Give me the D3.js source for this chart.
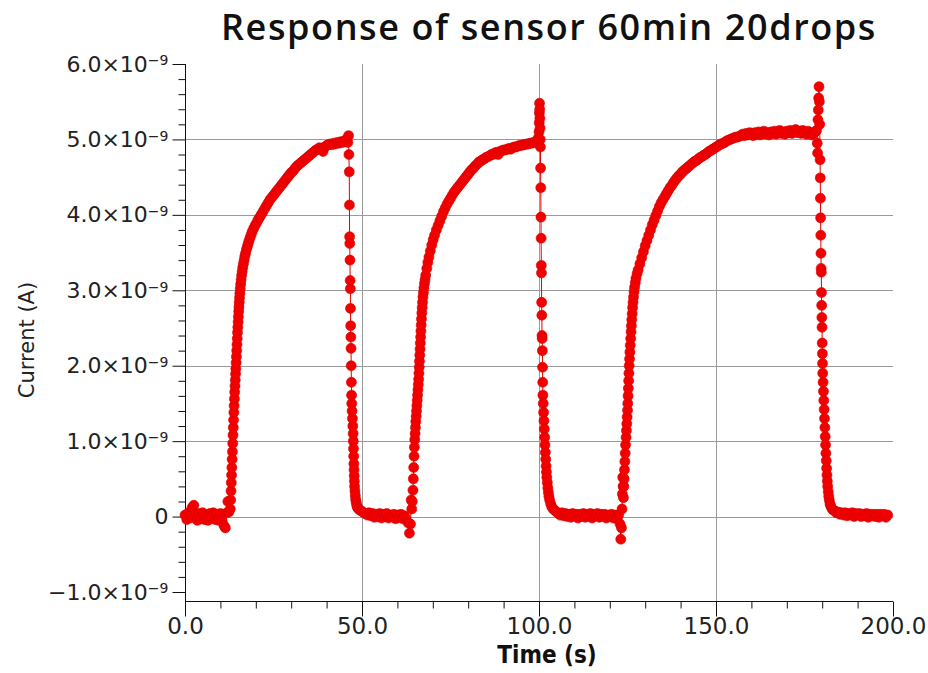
<!DOCTYPE html>
<html>
<head>
<meta charset="utf-8">
<script src="https://cdn.jsdelivr.net/npm/d3@7"></script>
<style>
  body { margin: 0; background: #fff; }
  svg { display: block; }
</style>
</head>
<body>
<svg id="chart" width="928" height="673"></svg>
<script>
// Sensor current samples: [time (s), current (nA)]
const cycle1 = [
  [0,0.02],[0.5,-0.04],[1,0.05],[1.5,-0.02],[2,0.12],[2.5,0.15],[3,0.03],[3.5,-0.05],[4,0.04],[4.5,-0.03],
  [5,0.05],[5.5,-0.04],[6,0.02],[6.5,-0.05],[7,0.04],[7.5,-0.02],[8,0.05],[8.5,-0.04],[9,0.03],[9.5,-0.05],
  [10,0.04],[10.5,-0.06],[11,-0.12],[11.4,-0.15],[11.8,0.05],[12.1,0.2],[12.4,0.06],
  [12.8,0.1],[12.9,0.22],[13.0,0.34],[13.08,0.45],[13.16,0.55],[13.24,0.65],[13.32,0.76],[13.4,0.86],
  [13.48,0.97],[13.56,1.08],[13.64,1.18],[13.72,1.28],[13.8,1.38],[13.88,1.47],[13.96,1.56],[14.04,1.65],
  [14.12,1.73],[14.2,1.81],[14.28,1.89],[14.36,1.96],[14.44,2.04],[14.52,2.12],[14.6,2.2],[14.68,2.28],
  [14.76,2.36],[14.84,2.44],[14.92,2.51],[15.0,2.58],[15.08,2.65],[15.16,2.72],[15.24,2.78],[15.32,2.84],
  [15.4,2.9],[15.5,2.96],[15.6,3.02],[15.72,3.08],[15.85,3.14],[16.0,3.2],[16.15,3.25],[16.3,3.3],
  [16.5,3.35],[16.7,3.4],[16.9,3.45],[17.1,3.49],[17.35,3.54],[17.6,3.58],[17.85,3.62],[18.1,3.66],
  [18.4,3.7],[18.7,3.74],[19.0,3.78],[19.4,3.82],[19.8,3.86],[20.2,3.89],[20.6,3.93],[21.0,3.96],
  [21.5,4.0],[22,4.04],[22.5,4.08],[23,4.12],[23.5,4.16],[24,4.2],[24.5,4.23],[25,4.26],[25.5,4.29],
  [26,4.32],[26.5,4.35],[27,4.38],[27.5,4.41],[28,4.44],[28.5,4.47],[29,4.5],[29.5,4.53],[30,4.56],
  [30.5,4.58],[31,4.61],[31.5,4.64],[32,4.66],[32.5,4.68],[33,4.7],[33.5,4.72],[34,4.74],[34.5,4.76],
  [35,4.78],[35.5,4.8],[36,4.82],[36.5,4.84],[37,4.86],[37.5,4.87],[38,4.89],[38.5,4.88],[39,4.84],
  [39.5,4.9],[40,4.92],[40.5,4.93],[41,4.94],[41.5,4.93],[42,4.95],[42.5,4.94],[43,4.96],[43.5,4.95],
  [44,4.97],[44.5,4.96],[45,4.98],[45.5,5.0],[46,4.96],[46.2,5.05],[46.3,4.8],
  [46.4,4.57],[46.45,4.13],[46.5,3.71],[46.55,3.62],[46.6,3.4],[46.65,3.13],[46.7,3.02],[46.75,2.76],
  [46.8,2.53],[46.85,2.38],[46.9,2.23],[46.95,2.0],[47.0,1.78],[47.05,1.61],[47.1,1.5],
  [47.2,1.4],[47.3,1.3],[47.4,1.2],[47.5,1.1],[47.55,1.0],[47.6,0.9],[47.65,0.8],[47.7,0.7],[47.75,0.62],
  [47.8,0.54],[47.85,0.47],[47.9,0.4],[48.0,0.34],[48.1,0.28],[48.2,0.23],[48.35,0.19],[48.5,0.15],
  [48.7,0.12],[49,0.1],[49.5,0.08],[50,0.07],[50.5,0.05]
];

const cycle2 = [
  [51,0.04],[51.5,0.02],[52,0.05],[52.5,0.01],[53,0.04],[53.5,-0.01],[54,0.03],[54.5,0.0],[55,0.04],
  [55.5,-0.02],[56,0.03],[56.5,0.01],[57,0.04],[57.5,-0.02],[58,0.02],[58.5,0.0],[59,0.03],[59.5,-0.03],
  [60,0.02],[60.5,-0.01],[61,0.03],[61.5,-0.03],[62,0.01],[62.5,-0.04],[63,-0.08],[63.4,-0.22],
  [63.7,-0.1],[63.9,0.22],[64.05,0.1],[64.2,0.2],
  [64.4,0.35],[64.5,0.5],[64.6,0.65],[64.7,0.8],[64.8,0.92],[64.9,1.02],[65.0,1.1],[65.1,1.18],
  [65.2,1.26],[65.3,1.33],[65.4,1.4],[65.5,1.47],[65.6,1.54],[65.7,1.61],[65.8,1.68],[65.9,1.75],
  [66.0,1.82],[66.08,1.9],[66.16,1.98],[66.24,2.06],[66.32,2.14],[66.4,2.22],[66.48,2.3],[66.56,2.38],
  [66.64,2.46],[66.72,2.54],[66.8,2.62],[66.9,2.7],[67.0,2.77],[67.1,2.84],[67.22,2.91],[67.35,2.97],
  [67.5,3.03],[67.65,3.09],[67.8,3.14],[68.0,3.2],[68.3,3.29],[68.6,3.37],[68.9,3.44],[69.3,3.52],
  [69.7,3.6],[70.1,3.67],[70.5,3.73],[71,3.8],[71.5,3.86],[72,3.92],[72.5,3.98],[73,4.04],[73.5,4.09],
  [74,4.14],[74.5,4.18],[75,4.22],[75.5,4.26],[76,4.3],[76.5,4.33],[77,4.36],[77.5,4.39],[78,4.42],
  [78.5,4.45],[79,4.48],[79.5,4.51],[80,4.54],[80.5,4.57],[81,4.6],[81.5,4.62],[82,4.65],[82.5,4.67],
  [83,4.7],[83.5,4.71],[84,4.73],[84.5,4.74],[85,4.76],[85.5,4.77],[86,4.78],[86.5,4.8],[87,4.8],
  [87.5,4.82],[88,4.83],[88.5,4.8],[89,4.84],[89.5,4.85],[90,4.86],[90.5,4.86],[91,4.87],[91.5,4.88],
  [92,4.87],[92.5,4.89],[93,4.9],[93.5,4.9],[94,4.91],[94.5,4.92],[95,4.92],[95.5,4.93],[96,4.93],
  [96.5,4.94],[97,4.94],[97.5,4.95],[98,4.95],[98.5,4.96],[99,4.97],[99.5,4.96],[99.8,5.02],[100,5.1],
  [100.05,5.22],[100.1,5.35],[100.15,5.48],[100.2,5.4],[100.25,5.28],[100.3,5.15],[100.35,5.0],[100.4,4.9],
  [100.45,4.62],[100.5,4.36],[100.55,3.97],[100.6,3.69],[100.65,3.33],[100.7,3.23],[100.75,2.84],
  [100.8,2.67],[100.85,2.4],[100.9,2.36],[100.95,2.2],[101.0,1.98],[101.05,1.78],[101.1,1.61],
  [101.2,1.5],[101.3,1.38],[101.4,1.27],[101.5,1.16],[101.6,1.05],[101.7,0.95],[101.8,0.85],[101.9,0.76],
  [102.0,0.67],[102.1,0.59],[102.2,0.52],[102.35,0.45],[102.5,0.38],[102.65,0.32],[102.8,0.27],
  [103,0.22],[103.3,0.17],[103.6,0.13],[104,0.1],[104.5,0.08],[105,0.06]
];

const cycle3 = [
  [105.5,0.04],[106,0.02],[106.5,0.05],[107,0.01],[107.5,0.04],[108,0.0],[108.5,0.03],[109,-0.01],
  [109.5,0.04],[110,0.01],[110.5,0.03],[111,-0.02],[111.5,0.03],[112,0.0],[112.5,0.04],[113,-0.01],
  [113.5,0.03],[114,0.0],[114.5,0.04],[115,-0.02],[115.5,0.03],[116,0.01],[116.5,0.04],[117,-0.01],
  [117.5,0.03],[118,0.0],[118.5,0.03],[119,-0.02],[119.5,0.02],[120,0.0],[120.5,0.03],[121,-0.02],
  [121.5,0.02],[122,-0.03],[122.5,0.02],[122.9,-0.1],[123.1,-0.3],[123.3,-0.15],[123.45,0.1],[123.55,0.3],
  [123.65,0.52],[123.75,0.4],[123.85,0.25],[123.95,0.4],[124.05,0.5],
  [124.15,0.62],[124.25,0.73],[124.35,0.84],[124.45,0.95],[124.6,1.05],[124.7,1.14],[124.8,1.23],
  [124.9,1.32],[125.0,1.41],[125.08,1.5],[125.16,1.6],[125.24,1.7],[125.32,1.8],[125.4,1.9],
  [125.48,2.0],[125.58,2.09],[125.68,2.18],[125.78,2.27],[125.9,2.36],[126.0,2.45],[126.1,2.53],
  [126.2,2.61],[126.32,2.69],[126.44,2.77],[126.56,2.84],[126.7,2.91],[126.85,2.98],[127.0,3.04],
  [127.2,3.1],[127.4,3.16],[127.7,3.22],[128.0,3.27],[128.5,3.35],[129,3.43],[129.5,3.51],[130,3.59],
  [130.5,3.66],[131,3.73],[131.5,3.8],[132,3.87],[132.5,3.93],[133,3.99],[133.5,4.05],[134,4.11],
  [134.5,4.16],[135,4.2],[135.5,4.24],[136,4.28],[136.5,4.32],[137,4.36],[137.5,4.39],[138,4.43],
  [138.5,4.46],[139,4.49],[139.5,4.52],[140,4.54],[140.5,4.57],[141,4.59],[141.5,4.61],[142,4.63],
  [142.5,4.65],[143,4.67],[143.5,4.69],[144,4.71],[144.5,4.72],[145,4.74],[145.5,4.76],[146,4.77],
  [146.5,4.79],[147,4.8],[147.5,4.82],[148,4.84],[148.5,4.85],[149,4.87],[149.5,4.88],[150,4.9],
  [150.5,4.91],[151,4.93],[151.5,4.94],[152,4.95],[152.5,4.96],[153,4.98],[153.5,4.99],[154,5.0],
  [154.5,5.01],[155,5.02],[155.5,5.03],[156,5.03],[156.5,5.04],[157,5.05],[157.5,5.07],[158,5.05],
  [158.5,5.08],[159,5.06],[159.5,5.09],[160,5.07],[160.5,5.05],[161,5.09],[161.5,5.07],[162,5.1],
  [162.5,5.06],[163,5.08],[163.5,5.11],[164,5.07],[164.5,5.09],[165,5.06],[165.5,5.1],[166,5.08],
  [166.5,5.11],[167,5.07],[167.5,5.09],[168,5.12],[168.5,5.08],[169,5.1],[169.5,5.07],[170,5.11],
  [170.5,5.09],[171,5.12],[171.5,5.08],[172,5.1],[172.5,5.13],[173,5.09],[173.5,5.11],[174,5.08],
  [174.5,5.12],[175,5.1],[175.5,5.07],[176,5.11],[176.5,5.09],[177,5.06],[177.5,5.08],[178,5.1],
  [178.4,5.12],[178.6,4.95],[178.7,4.82],[178.8,5.26],[178.9,5.39],[179.0,5.55],[179.1,5.7],[179.2,5.5],
  [179.3,5.2],[179.4,4.73],[179.45,4.49],[179.5,4.22],[179.55,3.96],[179.6,3.73],[179.65,3.49],
  [179.7,3.29],[179.75,3.24],[179.8,2.97],[179.85,2.8],[179.9,2.64],[179.95,2.51],[180.0,2.3],
  [180.05,2.16],[180.1,2.03],[180.15,1.9],[180.25,1.78],[180.35,1.66],[180.45,1.54],[180.55,1.42],
  [180.65,1.3],[180.75,1.18],[180.85,1.06],[180.95,0.95],[181.05,0.84],[181.15,0.74],[181.25,0.64],
  [181.35,0.55],[181.45,0.47],[181.55,0.4],[181.7,0.33],[181.85,0.27],[182.0,0.22],[182.2,0.17],
  [182.4,0.14],[182.7,0.11],[183,0.09],[183.3,0.08]
];

const recovery = [
  [183.7,0.07],[184,0.05],[184.5,0.06],[185,0.03],[185.5,0.05],[186,0.02],[186.5,0.05],[187,0.01],
  [187.5,0.04],[188,0.02],[188.5,0.05],[189,0.0],[189.5,0.04],[190,0.02],[190.5,0.04],[191,0.0],
  [191.5,0.03],[192,0.01],[192.5,0.04],[193,-0.01],[193.5,0.03],[194,0.01],[194.5,0.03],[195,0.0],
  [195.5,0.03],[196,-0.01],[196.5,0.03],[197,0.01],[197.5,0.03],[198,-0.01],[198.5,0.02]
];

const xMajorTicks = [0, 50, 100, 150, 200];
const yMajorTicks = [-1, 0, 1, 2, 3, 4, 5, 6];
const xGridValues = [50, 100, 150];
const yGridValues = [0, 1, 2, 3, 4, 5];
const titleText = "Response of sensor 60min 20drops";
const xLabel = "Time (s)";
const yLabel = "Current (A)";

const samples = cycle1.concat(cycle2, cycle3, recovery);

const svg = d3.select("#chart");
const W = 928, H = 673;
svg.append("rect").attr("width", W).attr("height", H).attr("fill", "#fff");

const x = d3.scaleLinear().domain([0, 200]).range([185, 893]);
const y = d3.scaleLinear().domain([-1, 6]).range([592, 64]);
const xAxisLevel = -1.12;           // horizontal axis crosses just below -1 nA
const baseY = y(xAxisLevel);

const FONT = "'DejaVu Sans', sans-serif";
const FONT_C = "'DejaVu Sans Condensed', 'DejaVu Sans', sans-serif";

// grid
const grid = svg.append("g").attr("stroke", "#9a9a9a").attr("stroke-width", 1);
grid.selectAll("line.gy").data(yGridValues).join("line")
  .attr("x1", x(0)).attr("x2", x(200))
  .attr("y1", d => Math.round(y(d)) + 0.5).attr("y2", d => Math.round(y(d)) + 0.5);
grid.selectAll("line.gx").data(xGridValues).join("line")
  .attr("x1", d => Math.round(x(d)) + 0.5).attr("x2", d => Math.round(x(d)) + 0.5)
  .attr("y1", y(6)).attr("y2", baseY);

// x axis (major + minor ticks)
const xMinor = d3.range(0, 201, 10).filter(v => v % 50 !== 0);
const gxMinor = svg.append("g").attr("transform", `translate(0,${Math.round(baseY) + 0.5})`)
  .call(d3.axisBottom(x).tickValues(xMinor).tickSize(7).tickSizeOuter(0).tickFormat(""));
gxMinor.select(".domain").remove();
const gx = svg.append("g").attr("transform", `translate(0,${Math.round(baseY) + 0.5})`)
  .call(d3.axisBottom(x).tickValues(xMajorTicks).tickSize(15).tickSizeOuter(0).tickPadding(1)
    .tickFormat(d => d.toFixed(1)));
gx.select(".domain").attr("d", `M${x(0)},0H${x(200)}`);
gx.selectAll("text").attr("font-family", FONT).attr("font-size", 23).attr("fill", "#222");

// y axis (major + minor ticks)
const yMinor = d3.range(-10, 61, 2).map(v => v / 10).filter(v => Math.abs(v - Math.round(v)) > 1e-6);
const gyMinor = svg.append("g").attr("transform", `translate(${Math.round(x(0)) + 0.5},0)`)
  .call(d3.axisLeft(y).tickValues(yMinor).tickSize(7).tickSizeOuter(0).tickFormat(""));
gyMinor.select(".domain").remove();
const gy = svg.append("g").attr("transform", `translate(${Math.round(x(0)) + 0.5},0)`)
  .call(d3.axisLeft(y).tickValues(yMajorTicks).tickSize(13).tickSizeOuter(0).tickPadding(4));
gy.select(".domain").attr("d", `M0,${y(6)}V${baseY}`);
gy.selectAll("text")
  .attr("font-family", FONT).attr("font-size", 22).attr("fill", "#222")
  .each(function (d) {
    const t = d3.select(this);
    t.text(null);
    if (d === 0) { t.text("0"); return; }
    t.append("tspan").text(d.toFixed(1).replace("-", "\u2212") + "\u00d710");
    t.append("tspan").attr("dy", "-0.45em").attr("font-size", 14).text("\u22129");
  });

svg.selectAll(".tick line, .domain").attr("stroke", "#111");

// series: thin connecting line + dot markers
const line = d3.line().x(d => x(d[0])).y(d => y(d[1]));
svg.append("path").datum(samples)
  .attr("d", line).attr("fill", "none").attr("stroke", "#e00000").attr("stroke-width", 1);
svg.append("g").selectAll("circle").data(samples).join("circle")
  .attr("cx", d => x(d[0])).attr("cy", d => y(d[1])).attr("r", 5)
  .attr("fill", "#f20000").attr("stroke", "#d80000").attr("stroke-width", 0.6);

// titles
svg.append("text").attr("x", 549).attr("y", 40).attr("text-anchor", "middle")
  .attr("font-family", "'Open Sans', 'DejaVu Sans', sans-serif").attr("font-weight", 600)
  .attr("font-size", 36).attr("letter-spacing", 1.6).attr("fill", "#111").text(titleText);
svg.append("text").attr("x", 547).attr("y", 663).attr("text-anchor", "middle")
  .attr("font-family", FONT_C).attr("font-weight", "bold").attr("font-size", 24)
  .attr("fill", "#111").text(xLabel);
svg.append("text").attr("transform", "translate(34,340) rotate(-90)").attr("text-anchor", "middle")
  .attr("font-family", FONT).attr("font-size", 21).attr("fill", "#222").text(yLabel);
</script>
</body>
</html>
